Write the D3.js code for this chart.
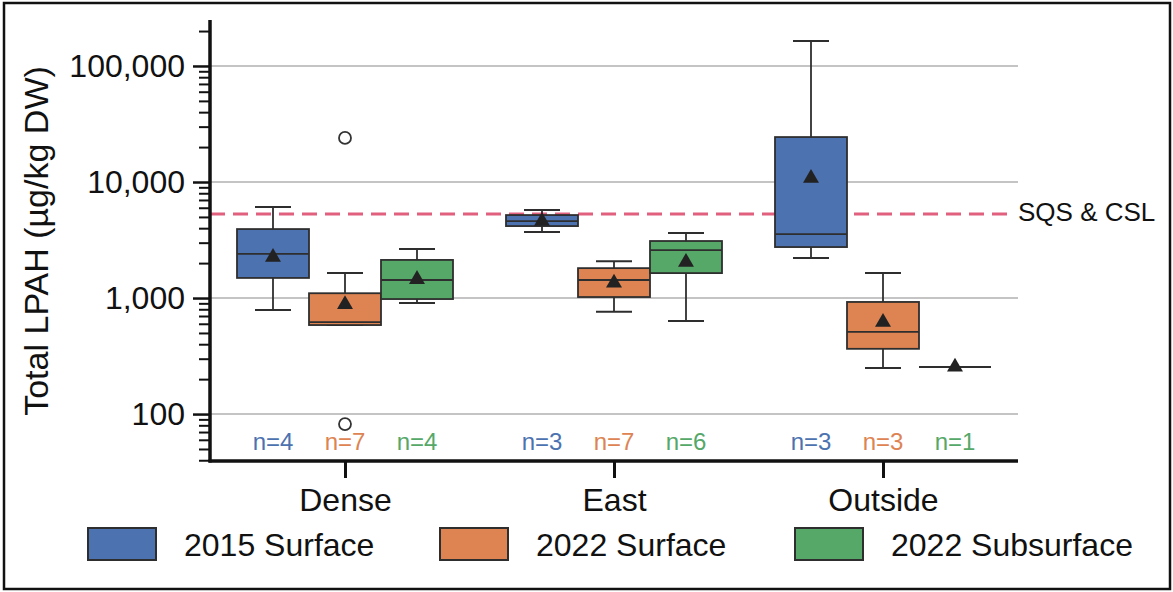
<!DOCTYPE html>
<html lang="en">
<head>
<meta charset="utf-8">
<title>LPAH box plot</title>
<script src="https://d3js.org/d3.v7.min.js"></script>
<style>
  body { margin: 0; background: #fff; }
  svg { display: block; font-family: "Liberation Sans", Arial, sans-serif; }
  .yAxis .domain, .xAxis .domain { display: none; }
  .yAxis text, .xAxis text { font-size: 32px; fill: #111; }
</style>
</head>
<body>
<div id="chart"></div>
<script>
// categories and series
const regions = ["Dense", "East", "Outside"];
const series = ["2015 Surface", "2022 Surface", "2022 Subsurface"];
const colors = ["#4c72b0", "#dd8452", "#55a868"];

// box stats per series, one value per region (µg/kg DW)
const whiskerLow  = [[790, 3710, 2210], [585, 760, 250], [905, 635, 255]];
const q1          = [[1490, 4170, 2750], [585, 1020, 365], [980, 1640, 255]];
const median      = [[2400, 4600, 3560], [620, 1430, 510], [1430, 2590, 255]];
const q3          = [[3930, 5190, 24400], [1100, 1810, 925], [2130, 3100, 255]];
const whiskerHigh = [[6100, 5740, 164000], [1640, 2080, 1640], [2640, 3640, 255]];
const means       = [[2250, 4600, 10800], [880, 1350, 620], [1450, 2040, 255]];
const counts      = [[4, 3, 3], [7, 7, 3], [4, 6, 1]];
// outliers: [series index, region index, value]
const outliers = [[1, 0, 24000], [1, 0, 82]];

const majorTicks = [100, 1000, 10000, 100000];
const sqsCsl = 5300;

const width = 1173, height = 592;
const marginLeft = 210, plotRight = 1018, plotTop = 20, plotBottom = 461;

const svg = d3.select("#chart").append("svg")
  .attr("width", width).attr("height", height);

// outer frame
svg.append("rect")
  .attr("x", 4).attr("y", 3).attr("width", width - 7).attr("height", height - 6)
  .attr("fill", "none").attr("stroke", "#111").attr("stroke-width", 2.5);

const y = d3.scaleLog().domain([39.4, 249000]).range([plotBottom, plotTop]);
const x = d3.scalePoint().domain(regions).range([345, 883]);
const xs = d3.scaleBand().domain(series).range([-108, 108]);
const bw = xs.bandwidth();

// gridlines
svg.append("g").selectAll("line")
  .data(majorTicks).enter().append("line")
  .attr("x1", marginLeft).attr("x2", plotRight)
  .attr("y1", d => y(d)).attr("y2", d => y(d))
  .attr("stroke", "#c4c4c4").attr("stroke-width", 2);

// reference line
svg.append("line")
  .attr("x1", marginLeft).attr("x2", 1015)
  .attr("y1", y(sqsCsl)).attr("y2", y(sqsCsl))
  .attr("stroke", "#e0607e").attr("stroke-width", 3)
  .attr("stroke-dasharray", "15,8");
svg.append("text")
  .attr("x", 1018).attr("y", y(sqsCsl))
  .attr("dominant-baseline", "middle")
  .attr("font-size", 26).attr("fill", "#111")
  .text("SQS & CSL");

// boxes
series.forEach((s, si) => {
  const g = svg.append("g").attr("class", "series");
  regions.forEach((r, ri) => {
    const cx = x(r) + xs(s) + bw / 2;
    const x0 = x(r) + xs(s);
    const lo = whiskerLow[si][ri], hi = whiskerHigh[si][ri];
    const b1 = q1[si][ri], b3 = q3[si][ri];
    const stroke = "#2e2e2e";
    if (b3 > b1) {
      // whiskers
      g.append("line").attr("x1", cx).attr("x2", cx)
        .attr("y1", y(hi)).attr("y2", y(b3)).attr("stroke", stroke).attr("stroke-width", 1.8);
      g.append("line").attr("x1", cx).attr("x2", cx)
        .attr("y1", y(b1)).attr("y2", y(lo)).attr("stroke", stroke).attr("stroke-width", 1.8);
      g.append("line").attr("x1", cx - bw / 4).attr("x2", cx + bw / 4)
        .attr("y1", y(hi)).attr("y2", y(hi)).attr("stroke", stroke).attr("stroke-width", 2);
      g.append("line").attr("x1", cx - bw / 4).attr("x2", cx + bw / 4)
        .attr("y1", y(lo)).attr("y2", y(lo)).attr("stroke", stroke).attr("stroke-width", 2);
      g.append("rect")
        .attr("x", x0).attr("width", bw)
        .attr("y", y(b3)).attr("height", y(b1) - y(b3))
        .attr("fill", colors[si]).attr("stroke", stroke).attr("stroke-width", 1.8);
      g.append("line").attr("x1", x0).attr("x2", x0 + bw)
        .attr("y1", y(median[si][ri])).attr("y2", y(median[si][ri]))
        .attr("stroke", stroke).attr("stroke-width", 1.8);
    } else {
      // single sample: flat line
      g.append("line").attr("x1", x0).attr("x2", x0 + bw)
        .attr("y1", y(b1)).attr("y2", y(b1))
        .attr("stroke", stroke).attr("stroke-width", 2);
    }
    // mean marker
    g.append("path")
      .attr("d", d3.symbol().type(d3.symbolTriangle).size(110)())
      .attr("transform", "translate(" + cx + "," + y(means[si][ri]) + ")")
      .attr("fill", "#222");
    // n label
    g.append("text")
      .attr("x", cx).attr("y", 450)
      .attr("text-anchor", "middle")
      .attr("font-size", 24).attr("fill", colors[si])
      .text("n=" + counts[si][ri]);
  });
});

// outliers
svg.append("g").selectAll("circle")
  .data(outliers).enter().append("circle")
  .attr("cx", d => x(regions[d[1]]) + xs(series[d[0]]) + bw / 2)
  .attr("cy", d => y(d[2]))
  .attr("r", 6)
  .attr("fill", "none").attr("stroke", "#333").attr("stroke-width", 1.8);

// y axis: major + minor ticks
const yAxis = d3.axisLeft(y).tickValues(majorTicks)
  .tickFormat(d3.format(",")).tickSize(17).tickPadding(8);
svg.append("g").attr("class", "yAxis")
  .attr("transform", "translate(" + marginLeft + ",0)")
  .call(yAxis)
  .selectAll("line").attr("stroke", "#111").attr("stroke-width", 2.5);

const minor = y.ticks().filter(d => !majorTicks.includes(d));
svg.append("g").attr("class", "yAxis")
  .attr("transform", "translate(" + marginLeft + ",0)")
  .call(d3.axisLeft(y).tickValues(minor).tickFormat("").tickSize(11))
  .selectAll("line").attr("stroke", "#111").attr("stroke-width", 2);

svg.append("line")
  .attr("x1", marginLeft).attr("x2", marginLeft).attr("y1", plotTop).attr("y2", plotBottom + 1.5)
  .attr("stroke", "#111").attr("stroke-width", 3.5);

// x axis
svg.append("g").attr("class", "xAxis")
  .attr("transform", "translate(0," + plotBottom + ")")
  .call(d3.axisBottom(x).tickSize(17).tickPadding(10))
  .selectAll("line").attr("stroke", "#111").attr("stroke-width", 3);

svg.append("line")
  .attr("x1", marginLeft - 1.5).attr("x2", plotRight).attr("y1", plotBottom).attr("y2", plotBottom)
  .attr("stroke", "#111").attr("stroke-width", 3.5);

// y title
svg.append("text")
  .attr("transform", "translate(48,241) rotate(-90)")
  .attr("text-anchor", "middle")
  .attr("font-size", 34).attr("fill", "#111")
  .text("Total LPAH (µg/kg DW)");

// legend
const legendX = [88, 440, 795];
const legend = svg.append("g").selectAll("g")
  .data(series).enter().append("g")
  .attr("transform", (d, i) => "translate(" + legendX[i] + ",528)");
legend.append("rect")
  .attr("width", 68).attr("height", 32)
  .attr("fill", (d, i) => colors[i]).attr("stroke", "#2e2e2e").attr("stroke-width", 2);
legend.append("text")
  .attr("x", 96).attr("y", 28)
  .attr("font-size", 32).attr("fill", "#111")
  .text(d => d);
</script>
</body>
</html>
